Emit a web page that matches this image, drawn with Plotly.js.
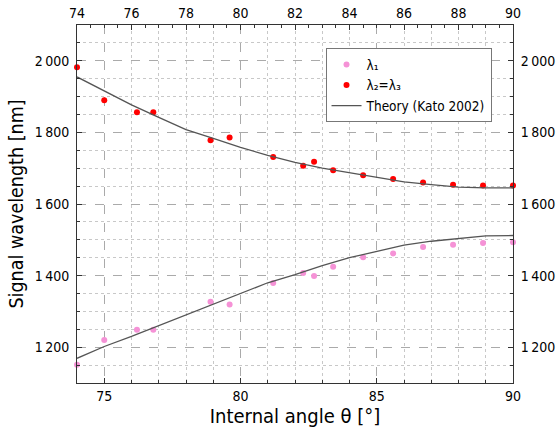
<!DOCTYPE html>
<html>
<head>
<meta charset="utf-8">
<script src="https://cdn.plot.ly/plotly-3.0.1.min.js"></script>
<style>html,body{margin:0;padding:0;background:#fff;}#chart{width:557px;height:437px;}</style>
</head>
<body>
<div id="chart"></div>
<script>
// Measured data: lambda1 (pink)
const angle = [74.0, 75.0, 76.2, 76.8, 78.9, 79.6, 81.2, 82.3, 82.7, 83.4, 84.5, 85.6, 86.7, 87.8, 88.9, 90.0];
const lambda1 = [1151, 1220, 1249, 1249, 1327, 1319, 1379, 1407, 1399, 1425, 1451, 1462, 1480, 1486, 1491, 1493];
// Measured data: lambda2 = lambda3 (red)
const lambda23 = [1982, 1890, 1856, 1856, 1778, 1786, 1731, 1707, 1718, 1694, 1680, 1670, 1660, 1654, 1652, 1652];
// Theory (Kato 2002)
const thAngle = [74, 75, 76, 77, 78, 79, 80, 81, 82, 83, 84, 85, 86, 87, 88, 89, 90];
const thUpper = [1955, 1915, 1877, 1842, 1808, 1783, 1758, 1736, 1716, 1700, 1688, 1674, 1662, 1654, 1647, 1645, 1645];
const thLower = [1169, 1202, 1230, 1260, 1288, 1320, 1349, 1380, 1403, 1428, 1450, 1468, 1485, 1496, 1504, 1511, 1512];
const seriesNames = ['λ₁', 'λ₂=λ₃', 'Theory (Kato 2002)'];

const FONT = '"DejaVu Sans Condensed", "DejaVu Sans", sans-serif';
const AX = '#333333';

const traces = [
  {x: angle, y: lambda1, mode: 'markers', name: seriesNames[0],
   marker: {color: '#f592d6', size: 6}, cliponaxis: false},
  {x: angle, y: lambda23, mode: 'markers', name: seriesNames[1],
   marker: {color: '#ff0000', size: 6}, cliponaxis: false},
  {x: thAngle, y: thUpper, mode: 'lines', name: seriesNames[2],
   line: {color: '#555555', width: 1.3}},
  {x: thAngle, y: thLower, mode: 'lines', name: seriesNames[2], showlegend: false,
   line: {color: '#555555', width: 1.3}},
  {x: thAngle, y: thLower, xaxis: 'x2', yaxis: 'y2', mode: 'lines', showlegend: false, hoverinfo: 'skip',
   line: {color: 'rgba(0,0,0,0)', width: 0}}
];

const minorX = {dtick: 1, tick0: 74, ticks: 'inside', ticklen: 3, tickcolor: AX,
  showgrid: true, gridcolor: '#c8c8c8', griddash: 'dot', gridwidth: 1};
const minorY = {dtick: 50, tick0: 1100, ticks: 'inside', ticklen: 3, tickcolor: AX,
  showgrid: true, gridcolor: '#c8c8c8', griddash: 'dot', gridwidth: 1};

const layout = {
  width: 557, height: 437,
  margin: {l: 77, r: 44, t: 25, b: 54},
  paper_bgcolor: '#ffffff', plot_bgcolor: '#ffffff',
  font: {family: FONT, size: 14, color: '#000'},
  separators: '.\u2009',
  showlegend: true,
  legend: {x: 0.57, y: 0.935, xanchor: 'left', yanchor: 'top', bgcolor: '#ffffff',
    bordercolor: '#777777', borderwidth: 1, tracegroupgap: 0, itemwidth: 30,
    font: {family: FONT, size: 13.5, color: '#000'}},
  xaxis: {range: [74, 90], tick0: 75, dtick: 5, ticks: 'inside', ticklen: 5, tickcolor: AX,
    showline: true, linecolor: AX, linewidth: 1, zeroline: false,
    showgrid: true, gridcolor: '#aaaaaa', griddash: 'dash', gridwidth: 1,
    minor: minorX, tickfont: {size: 14},
    title: {text: 'Internal angle θ [°]', font: {size: 20}, standoff: 6}},
  xaxis2: {range: [74, 90], overlaying: 'x', side: 'top', tick0: 74, dtick: 2,
    ticks: 'inside', ticklen: 5, tickcolor: AX, showline: true, linecolor: AX, linewidth: 1,
    showgrid: false, zeroline: false, tickfont: {size: 14},
    minor: {dtick: 0.5, tick0: 74, ticks: 'inside', ticklen: 3, tickcolor: AX, showgrid: false}},
  yaxis: {range: [1100, 2100], tick0: 1000, dtick: 200, ticks: 'inside', ticklen: 5, tickcolor: AX,
    showline: true, linecolor: AX, linewidth: 1, zeroline: false,
    showgrid: true, gridcolor: '#aaaaaa', griddash: 'dash', gridwidth: 1,
    separatethousands: true, minor: minorY, tickfont: {size: 14}, ticklabelstandoff: 4,
    title: {text: 'Signal wavelength [nm]', font: {size: 19.5}, standoff: 5}},
  yaxis2: {range: [1100, 2100], overlaying: 'y', side: 'right', tick0: 1000, dtick: 200,
    ticks: 'inside', ticklen: 5, tickcolor: AX, showline: true, linecolor: AX, linewidth: 1,
    showgrid: false, zeroline: false, separatethousands: true, tickfont: {size: 14}, ticklabelstandoff: 4,
    minor: {dtick: 50, tick0: 1100, ticks: 'inside', ticklen: 3, tickcolor: AX, showgrid: false}}
};

Plotly.newPlot('chart', traces, layout, {staticPlot: true, displayModeBar: false});
</script>
</body>
</html>
